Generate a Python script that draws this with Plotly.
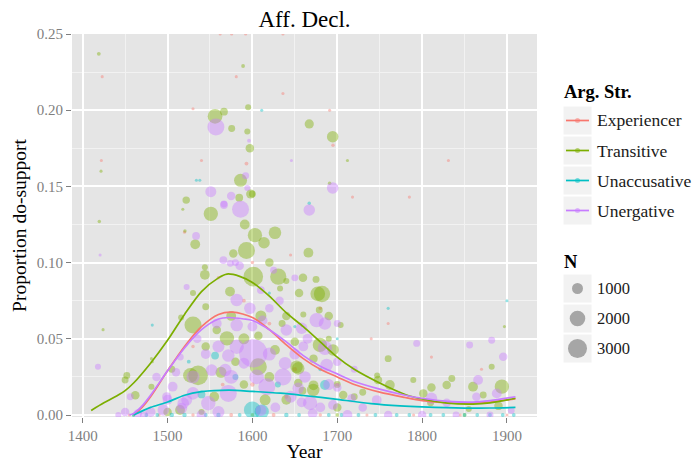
import plotly.graph_objects as go
import math

# ---------------- data ----------------
categories = ["Experiencer", "Transitive", "Unaccusative", "Unergative"]
colors = {"Experiencer": "#F8766D", "Transitive": "#7CAE00",
          "Unaccusative": "#00BFC4", "Unergative": "#C77CFF"}

# scatter points: (year, proportion, N)
exp_year = [1423, 1422, 1581, 1593, 1540, 1530, 1636, 1691, 1695, 1831, 1718, 1785, 1811, 1562, 1575.5, 1592, 1636,
            1560, 1600, 1620, 1530, 1650, 1700, 1565, 1590, 1640, 1680, 1740, 1600, 1520, 1645, 1760, 1870,
            1455, 1490, 1530, 1575, 1625, 1680, 1735, 1790, 1845, 1900]
exp_prop = [0.222, 0.167, 0.222, 0.165, 0.167, 0.201, 0.211, 0.200, 0.177, 0.167, 0.143, 0.143, 0.038, 0.25, 0.25, 0.25, 0.25,
            0.09, 0.10, 0.06, 0.045, 0.03, 0.02, 0.02, 0.075, 0.012, 0.07, 0.05, 0.02, 0.12, 0.105, 0.06, 0.03,
            0, 0, 0, 0, 0, 0, 0, 0, 0, 0]
exp_n = [40, 40, 40, 60, 40, 40, 40, 40, 50, 40, 40, 40, 40, 40, 40, 40, 40,
         50, 50, 60, 50, 80, 60, 60, 60, 60, 50, 40, 80, 40, 40, 40, 40,
         40, 40, 50, 60, 60, 50, 40, 40, 40, 40]

tra_year = [1419, 1421.6, 1419.6, 1556, 1566.5, 1575.6, 1589, 1595, 1594, 1597, 1586, 1598, 1584.5, 1522, 1551, 1591,
            1518, 1667, 1694.6, 1691, 1712, 1603, 1626.6, 1520.5, 1532.6, 1593, 1613.7, 1666, 1544, 1630.5, 1640,
            1659.6, 1601, 1573.6, 1530, 1632.6, 1682, 1677, 1530, 1516, 1545, 1570, 1558, 1607, 1626.6, 1607, 1652,
            1536, 1527, 1654, 1695, 1659, 1481, 1482, 1514.7, 1675, 1678.8, 1660, 1679.6, 1672, 1654, 1672, 1671.7,
            1707, 1748, 1747, 1760, 1762, 1789.6, 1801.4, 1811, 1835, 1829, 1860, 1872, 1882, 1894, 1897, 1704,
            1452, 1450, 1462, 1481, 1424, 1544, 1577.5, 1555, 1580, 1620, 1640, 1700, 1720, 1500, 1540, 1810, 1855,
            1890, 1505, 1545, 1563, 1590, 1615, 1635, 1650, 1690, 1460, 1600, 1700, 1850,
            1590, 1620, 1655, 1690, 1575, 1610, 1640, 1700, 1730, 1600]
tra_prop = [0.237, 0.160, 0.127, 0.196, 0.199, 0.188, 0.229, 0.202, 0.186, 0.175, 0.154, 0.145, 0.1426, 0.141, 0.132, 0.125,
            0.135, 0.191, 0.1826, 0.152, 0.167, 0.118, 0.1196, 0.1207, 0.112, 0.108, 0.113, 0.1065, 0.092, 0.0908, 0.088,
            0.090, 0.0908, 0.081, 0.080, 0.083, 0.0794, 0.0795, 0.059, 0.064, 0.071, 0.0503, 0.0558, 0.052, 0.0427, 0.0317, 0.0317,
            0.026, 0.026, 0.021, 0.0427, 0.016, 0.0186, 0.035, 0.0033, 0.089, 0.0689, 0.066, 0.046, 0.037, 0.0306, 0.0195, 0.0164,
            0.0131, 0.023, 0.026, 0.037, 0.0197, 0.023, 0.0142, 0.018, 0.024, 0.0197, 0.0186, 0.0131, 0.0317, 0.0186, 0.058, 0.059,
            0.026, 0.023, 0.013, 0.037, 0.056, 0.097, 0.106, 0.012, 0.035, 0.025, 0.065, 0.02, 0.012, 0.002, 0.002, 0.008, 0.004,
            0.006, 0.03, 0.045, 0.028, 0.020, 0.010, 0.060, 0.048, 0.05, 0, 0, 0, 0,
            0.05, 0.10, 0.08, 0.065, 0.065, 0.065, 0.01, 0.005, 0.015, 0.145]
tra_n = [60, 40, 50, 900, 250, 200, 60, 150, 150, 300, 700, 350, 250, 230, 850, 400,
         40, 350, 550, 50, 40, 850, 650, 50, 400, 1200, 550, 400, 400, 1100, 150,
         300, 1600, 400, 150, 150, 1100, 900, 1200, 150, 200, 850, 300, 300, 400, 1200, 650,
         1600, 900, 300, 550, 250, 150, 40, 400, 200, 200, 150, 850, 300, 650, 400, 650,
         300, 300, 150, 200, 400, 150, 300, 300, 200, 300, 400, 200, 150, 850, 40, 150,
         200, 200, 300, 40, 40, 150, 300, 400, 300, 400, 300, 200, 200, 300, 150, 200, 150,
         300, 200, 300, 500, 300, 500, 200, 300, 150, 40, 60, 60, 60,
         500, 300, 300, 300, 400, 500, 400, 300, 200, 200]

unacc_year = [1534, 1538, 1667, 1611, 1482, 1556, 1540, 1685.5, 1600, 1611, 1620, 1650, 1700, 1760, 1900, 1580, 1630,
              1525, 1680, 1460, 1475, 1488, 1505, 1520, 1545, 1560, 1585, 1640, 1655, 1690, 1705, 1725, 1745, 1770,
              1785, 1810, 1825, 1850, 1865, 1880, 1895, 1908]
unacc_prop = [0.154, 0.154, 0.139, 0.2, 0.059, 0.039, 0.0135, 0.0197, 0.0033, 0.0022, 0.08, 0.058, 0.05, 0.07, 0.075, 0.025, 0.02,
              0.035, 0.03, 0, 0, 0, 0, 0, 0, 0, 0, 0, 0, 0, 0, 0, 0, 0,
              0, 0, 0, 0, 0, 0, 0, 0]
unacc_n = [40, 40, 50, 40, 40, 250, 250, 400, 1200, 850, 40, 40, 40, 40, 40, 150, 150,
           60, 60, 60, 60, 60, 80, 80, 60, 80, 60, 80, 60, 60, 60, 60, 60, 60,
           60, 60, 60, 60, 60, 60, 60, 60]

unerg_year = [1420.5, 1418, 1456, 1450, 1442, 1465, 1472, 1480, 1487, 1506, 1499, 1522.6, 1516.6, 1557, 1566.5, 1575, 1592,
              1594, 1596, 1551, 1586, 1694.6, 1667, 1646, 1533.6, 1566.5, 1574, 1565.8, 1585, 1580, 1601, 1581.5, 1571.6,
              1590, 1552, 1568, 1515, 1530, 1518.5, 1571.6, 1548, 1495, 1617, 1636, 1640, 1658, 1675.7, 1685.5, 1558,
              1581.5, 1600, 1522.5, 1581.5, 1597, 1638.5, 1668, 1687.5, 1627, 1671, 1662, 1685.5, 1654, 1658, 1695, 1717,
              1712, 1746.5, 1793.6, 1811, 1829, 1856, 1866, 1864, 1882, 1895.6, 1888, 1760, 1800, 1840, 1880, 1905,
              1540, 1560, 1610, 1645, 1700, 1730, 1620, 1660, 1545, 1510, 1535, 1625, 1610,
              1605, 1620, 1650, 1665, 1690, 1700, 1575, 1560, 1530, 1500, 1612, 1632, 1700, 1720, 1650, 1680]
unerg_prop = [0.105, 0.0317, 0.012, 0.002, 0.0, 0.001, 0.0, 0.002, 0.025, 0.0186, 0.012, 0.0098, 0.0044, 0.189, 0.1385, 0.1437, 0.157,
              0.149, 0.180, 0.1465, 0.135, 0.149, 0.1345, 0.167, 0.1175, 0.1378, 0.0995, 0.1017, 0.098, 0.100, 0.0405, 0.0448, 0.039,
              0.034, 0.0295, 0.0295, 0.038, 0.0142, 0.0077, 0.0142, 0.0077, 0.0033, 0.0186, 0.025, 0.0558, 0.0569, 0.0623, 0.060, 0.060,
              0.059, 0.058, 0.084, 0.0755, 0.070, 0.034, 0.0079, 0.0328, 0.005, 0.001, 0.025, 0.044, 0.0175, 0.0083, 0.0066, 0.011,
              0.0, 0.0098, 0.047, 0.011, 0.008, 0.046, 0.023, 0.012, 0.049, 0.0383, 0.0142, 0.0, 0.0, 0.0, 0.0, 0.003,
              0.0, 0.002, 0.003, 0.012, 0.018, 0.005, 0.07, 0.045, 0.04, 0.028, 0.05, 0.095, 0.082,
              0.025, 0.04, 0.04, 0.05, 0.02, 0.035, 0.025, 0.045, 0.025, 0.01, 0.062, 0.075, 0.06, 0.03, 0.09, 0.005]
unerg_n = [40, 150, 200, 300, 150, 300, 250, 400, 300, 400, 350, 500, 500, 1200, 200, 300, 200,
           150, 60, 500, 1200, 550, 550, 40, 250, 250, 200, 250, 300, 200, 3300, 850, 650,
           500, 550, 650, 200, 650, 550, 1200, 850, 550, 1200, 1200, 550, 550, 850, 650, 400,
           650, 400, 150, 650, 550, 650, 850, 650, 400, 400, 550, 850, 550, 400, 400, 300,
           400, 400, 200, 550, 300, 200, 400, 300, 200, 300, 400, 300, 300, 200, 200, 200,
           400, 600, 500, 600, 300, 300, 300, 400, 400, 300, 300, 200, 250,
           900, 700, 500, 400, 500, 300, 800, 600, 700, 400, 400, 300, 200, 200, 200, 400]

# smoothed curves
exp_fit_year = [1460, 1470, 1480, 1500, 1520, 1540, 1560, 1577, 1600, 1620, 1640, 1660, 1680, 1700, 1720, 1750,
                1780, 1800, 1830, 1860, 1880, 1910]
exp_fit = [0.0, 0.005, 0.012, 0.029, 0.045, 0.058, 0.066, 0.0675, 0.064, 0.056, 0.046, 0.037, 0.030, 0.025, 0.020, 0.015,
           0.0115, 0.0095, 0.008, 0.0078, 0.0085, 0.0105]
tra_fit_year = [1410, 1425, 1440, 1450, 1460, 1480, 1500, 1520, 1540, 1560, 1570, 1585, 1600, 1620, 1640, 1660, 1680,
                1700, 1720, 1750, 1780, 1800, 1830, 1860, 1880, 1910]
tra_fit = [0.003, 0.008, 0.0125, 0.016, 0.021, 0.034, 0.049, 0.066, 0.081, 0.090, 0.0925, 0.091, 0.087, 0.078, 0.067,
           0.058, 0.048, 0.038, 0.030, 0.021, 0.0135, 0.0105, 0.0078, 0.0072, 0.008, 0.011]
unacc_fit_year = [1460, 1480, 1500, 1520, 1540, 1572, 1600, 1633, 1660, 1700, 1740, 1774, 1800, 1850, 1880, 1910]
unacc_fit = [0.0, 0.005, 0.0085, 0.013, 0.0153, 0.0163, 0.0155, 0.0143, 0.0128, 0.0103, 0.0075, 0.006, 0.0053, 0.0045,
             0.0046, 0.005]
unerg_fit_year = [1455, 1460, 1470, 1480, 1500, 1520, 1540, 1560, 1572, 1590, 1600, 1620, 1640, 1660, 1680, 1700,
                  1720, 1750, 1780, 1800, 1830, 1860, 1880, 1910]
unerg_fit = [0.0, 0.001, 0.006, 0.013, 0.029, 0.044, 0.056, 0.063, 0.064, 0.063, 0.062, 0.056, 0.048, 0.039, 0.032,
             0.027, 0.022, 0.017, 0.013, 0.011, 0.009, 0.0085, 0.0095, 0.012]

points = {
    "Experiencer": (exp_year, exp_prop, exp_n),
    "Transitive": (tra_year, tra_prop, tra_n),
    "Unaccusative": (unacc_year, unacc_prop, unacc_n),
    "Unergative": (unerg_year, unerg_prop, unerg_n),
}
fits = {
    "Experiencer": (exp_fit_year, exp_fit),
    "Transitive": (tra_fit_year, tra_fit),
    "Unaccusative": (unacc_fit_year, unacc_fit),
    "Unergative": (unerg_fit_year, unerg_fit),
}
size_breaks = [1000, 2000, 3000]
x_ticks = [1400, 1500, 1600, 1700, 1800, 1900]
y_ticks = [0.00, 0.05, 0.10, 0.15, 0.20, 0.25]

# ---------------- figure ----------------
FONT = "Liberation Serif, DejaVu Serif, serif"
SIZEREF = 8.3

fig = go.Figure()
for cat in categories:
    xs, ys, ns = points[cat]
    fig.add_trace(go.Scatter(
        x=xs, y=ys, mode="markers", name=cat, showlegend=False,
        marker=dict(size=ns, sizemode="area", sizeref=SIZEREF, sizemin=1.5,
                    color=colors[cat], opacity=0.42, line=dict(width=0)),
    ))
for cat in categories:
    xs, ys = fits[cat]
    fig.add_trace(go.Scatter(
        x=xs, y=ys, mode="lines", name=cat, showlegend=False,
        line=dict(color=colors[cat], width=1.7, shape="spline", smoothing=0.8),
    ))

# pixel helpers for layout placement
L, R, T, B = 72, 537, 34, 417


def fx(px):
    return (px - L) / (R - L)


def fy(py):
    return (B - py) / (B - T)


shapes = []
annotations = []

# legend: Arg. Str.
annotations.append(dict(text="<b>Arg. Str.</b>", x=fx(562), y=fy(92), xref="paper", yref="paper",
                        xanchor="left", yanchor="middle", showarrow=False,
                        font=dict(family=FONT, size=18.5, color="#000000")))
key_x0, key_x1 = 563, 592
for i, cat in enumerate(categories):
    top = 106 + 30 * i
    cy = top + 14.5
    shapes.append(dict(type="rect", xref="paper", yref="paper", x0=fx(key_x0), x1=fx(key_x1),
                       y0=fy(top + 29), y1=fy(top), fillcolor="#F2F2F2", line=dict(color="white", width=1),
                       layer="above"))
    shapes.append(dict(type="line", xref="paper", yref="paper", x0=fx(key_x0 + 3), x1=fx(key_x1 - 3),
                       y0=fy(cy), y1=fy(cy), line=dict(color=colors[cat], width=1.7), layer="above"))
    shapes.append(dict(type="circle", xref="paper", yref="paper", xsizemode="pixel", ysizemode="pixel",
                       xanchor=fx((key_x0 + key_x1) / 2), yanchor=fy(cy), x0=-2.5, x1=2.5, y0=-2.5, y1=2.5,
                       fillcolor=colors[cat], opacity=0.5, line=dict(width=0), layer="above"))
    annotations.append(dict(text=cat, x=fx(595), y=fy(cy), xref="paper", yref="paper",
                            xanchor="left", yanchor="middle", showarrow=False,
                            font=dict(family=FONT, size=17.5, color="#1a1a1a")))

# legend: N
annotations.append(dict(text="<b>N</b>", x=fx(562), y=fy(262), xref="paper", yref="paper",
                        xanchor="left", yanchor="middle", showarrow=False,
                        font=dict(family=FONT, size=18.5, color="#000000")))
for i, nb in enumerate(size_breaks):
    top = 274 + 30 * i
    cy = top + 14.5
    shapes.append(dict(type="rect", xref="paper", yref="paper", x0=fx(key_x0), x1=fx(key_x1),
                       y0=fy(top + 29), y1=fy(top), fillcolor="#F2F2F2", line=dict(color="white", width=1),
                       layer="above"))
    r = math.sqrt(nb / SIZEREF) / 2
    shapes.append(dict(type="circle", xref="paper", yref="paper", xsizemode="pixel", ysizemode="pixel",
                       xanchor=fx((key_x0 + key_x1) / 2), yanchor=fy(cy), x0=-r, x1=r, y0=-r, y1=r,
                       fillcolor="#A6A6A6", line=dict(width=0), layer="above"))
    annotations.append(dict(text=str(nb), x=fx(595), y=fy(cy), xref="paper", yref="paper",
                            xanchor="left", yanchor="middle", showarrow=False,
                            font=dict(family=FONT, size=16.5, color="#1a1a1a")))

fig.update_layout(
    width=692, height=462,
    margin=dict(l=L, r=692 - R, t=T, b=462 - B, autoexpand=False),
    paper_bgcolor="white", plot_bgcolor="#E5E5E5",
    showlegend=False,
    font=dict(family=FONT, size=15, color="#000000"),
    title=dict(text="Aff. Decl.", x=0.5, xref="paper", xanchor="center",
               y=1 - 19 / 462, yref="container", yanchor="middle",
               font=dict(family=FONT, size=23, color="#000000")),
    shapes=shapes, annotations=annotations,
)
fig.update_xaxes(
    range=[1387.4, 1935.4], tickvals=x_ticks, ticks="outside", ticklen=5, tickwidth=1.2,
    tickcolor="#7F7F7F", tickfont=dict(family=FONT, size=15, color="#7F7F7F"),
    showgrid=True, gridcolor="white", gridwidth=1.6, zeroline=False, showline=False, automargin=False,
    minor=dict(dtick=50, tick0=1350, showgrid=True, gridcolor="#F2F2F2", gridwidth=0.8, ticks=""),
    title=dict(text="Year", font=dict(family=FONT, size=19.5, color="#000000"), standoff=2),
)
fig.update_yaxes(
    range=[-0.0013, 0.25], tickvals=y_ticks, tickformat=".2f", ticks="outside", ticklen=5, tickwidth=1.2,
    tickcolor="#7F7F7F", tickfont=dict(family=FONT, size=15, color="#7F7F7F"),
    showgrid=True, gridcolor="white", gridwidth=1.6, zeroline=False, showline=False, automargin=False,
    minor=dict(dtick=0.025, tick0=0.025, showgrid=True, gridcolor="#F2F2F2", gridwidth=0.8, ticks=""),
    title=dict(text="Proportion do-support", font=dict(family=FONT, size=19.5, color="#000000"), standoff=4),
)

fig.write_html("out.html")
